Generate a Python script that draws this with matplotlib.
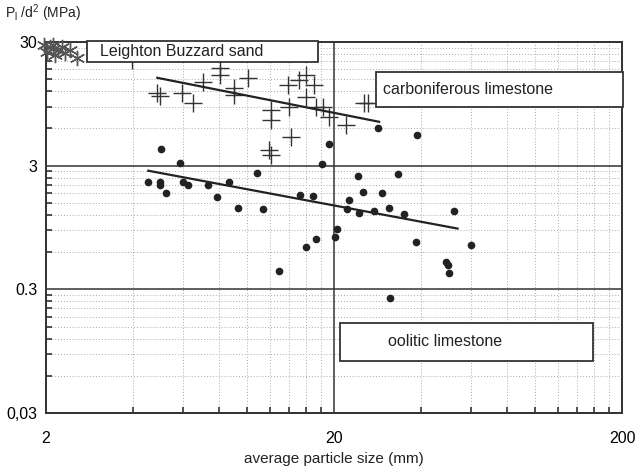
import matplotlib
matplotlib.use("Agg")
import matplotlib.pyplot as plt
from matplotlib.patches import Rectangle
from matplotlib.ticker import FixedLocator, NullFormatter

plt.rcParams['font.family'] = ['Liberation Sans', 'DejaVu Sans']

# carboniferous limestone (crosses)
carb_size = [3.99, 4.87, 4.99, 5.95, 6.50, 6.99, 8.01, 8.01, 8.97, 8.97, 10.03, 12.06, 12.06,
             11.87, 12.06, 13.83, 14.16, 13.93, 15.1, 15.98, 15.98, 17.0, 17.3, 18.3, 19.2,
             22.0, 25.4, 26.3]
carb_strength = [21.5, 11.6, 11.0, 11.6, 9.7, 14.3, 18.5, 16.3, 12.8, 11.2, 15.4, 8.5, 7.05,
                 4.04, 3.68, 13.5, 5.14, 8.97, 14.8, 16.3, 10.8, 13.5, 8.97, 8.97, 7.45,
                 6.42, 9.7, 9.7]
carb_fit_x = [4.87, 28.7]
carb_fit_y = [15.4, 6.79]

# oolitic limestone (dots)
ool_size = [5.03, 5.86, 4.53, 4.98, 4.98, 5.20, 6.0, 6.2, 7.28, 7.82, 8.61, 9.26, 10.8, 11.3,
            12.86, 15.2, 16.9, 15.98, 17.3, 18.2, 19.2, 28.5, 38.9, 24.2, 33.4, 25.2, 29.4,
            22.6, 22.2, 24.4, 27.6, 31.1, 35.1, 52.4, 20.5, 20.2, 38.6, 59.6, 49.1, 49.9,
            50.3, 31.3]
ool_strength = [4.11, 3.17, 2.23, 2.23, 2.11, 1.82, 2.23, 2.11, 2.11, 1.66, 2.23, 1.37, 2.63,
                1.33, 0.419, 1.75, 1.69, 0.655, 0.76, 3.11, 4.51, 6.08, 5.33, 2.49, 2.59,
                1.85, 1.82, 1.57, 1.33, 1.25, 1.28, 1.37, 1.23, 1.28, 0.93, 0.79, 0.72,
                0.68, 0.495, 0.469, 0.404, 0.254]
ool_fit_x = [4.53, 53.7]
ool_fit_y = [2.73, 0.93]

# Leighton Buzzard sand (asterisks)
sand_size = [2.02, 2.06, 2.12, 2.15, 2.20, 2.27, 2.33, 2.42, 2.56, 1.97]
sand_strength = [24.9, 27.3, 28.4, 23.6, 25.9, 27.3, 24.5, 25.9, 22.3, 28.4]

x_ticks = [2, 20, 200]
x_ticklabels = ["2", "20", "200"]
y_ticks = [0.03, 0.3, 3, 30]
y_ticklabels = ["0,03", "0.3", "3", "30"]

fig = plt.figure(figsize=(6.35, 4.72), dpi=100)
ax = fig.add_axes([46 / 635, 59 / 472, 576 / 635, 371 / 472])
ax.set_xscale("log")
ax.set_yscale("log")
ax.set_xlim(2, 200)
ax.set_ylim(0.03, 30)

ax.xaxis.set_major_locator(FixedLocator(x_ticks))
ax.yaxis.set_major_locator(FixedLocator(y_ticks))
ax.xaxis.set_minor_locator(FixedLocator([2 * k for k in range(2, 10)] + [20 * k for k in range(2, 10)]))
ax.yaxis.set_minor_locator(FixedLocator([0.03 * k for k in range(2, 10)] + [0.3 * k for k in range(2, 10)]
                                        + [3 * k for k in range(2, 10)]))
ax.xaxis.set_minor_formatter(NullFormatter())
ax.yaxis.set_minor_formatter(NullFormatter())
ax.set_xticklabels(x_ticklabels, fontsize=11.5)
ax.set_yticklabels(y_ticklabels, fontsize=11.5)
ax.tick_params(which="major", length=0, pad=6)
ax.tick_params(axis="x", which="major", pad=13)
ax.tick_params(which="minor", direction="in", length=4, width=1.2, color="#333")

ax.grid(which="major", color="#333", linewidth=1.1, linestyle="-")
ax.grid(which="minor", color="#aaa", linewidth=0.7, linestyle=(0, (1, 2)))
ax.set_axisbelow(True)
for s in ax.spines.values():
    s.set_linewidth(1.4)
    s.set_color("#333")

ax.plot(carb_size, carb_strength, linestyle="none", marker="+", markersize=13,
        markeredgewidth=1.0, color="#333", zorder=3)
ax.plot(carb_fit_x, carb_fit_y, color="#222", linewidth=1.6, zorder=3)
ax.plot(ool_size, ool_strength, linestyle="none", marker="o", markersize=4.5,
        color="#222", zorder=3)
ax.plot(ool_fit_x, ool_fit_y, color="#222", linewidth=1.6, zorder=3)
ax.plot(sand_size, sand_strength, linestyle="none", marker=(6, 2, 0), markersize=11,
        markeredgewidth=1.0, color="#555", zorder=3, clip_on=False)

# label boxes
boxes = [
    ((87, 41, 318, 62), "Leighton Buzzard sand", 100),
    ((376, 72, 623, 107), "carboniferous limestone", 383),
    ((340, 323, 593, 361), "oolitic limestone", 388),
]
for (x0, y0, x1, y1), label, tx in boxes:
    fig.patches.append(Rectangle((x0 / 635, 1 - y1 / 472), (x1 - x0) / 635, (y1 - y0) / 472,
                                 transform=fig.transFigure, facecolor="white",
                                 edgecolor="#333", linewidth=1.3, zorder=5))
    fig.text(tx / 635, 1 - (y0 + y1) / 2 / 472, label, fontsize=11.5, va="center",
             ha="left", color="#222", zorder=6)

fig.text(5 / 635, 1 - 13 / 472, r"P$_\mathregular{l}$ /d$^\mathregular{2}$ (MPa)", fontsize=10,
         va="center", ha="left", color="#222")
ax.set_xlabel("average particle size (mm)", fontsize=11, labelpad=4, color="#222")

fig.savefig("out.png", dpi=100)
